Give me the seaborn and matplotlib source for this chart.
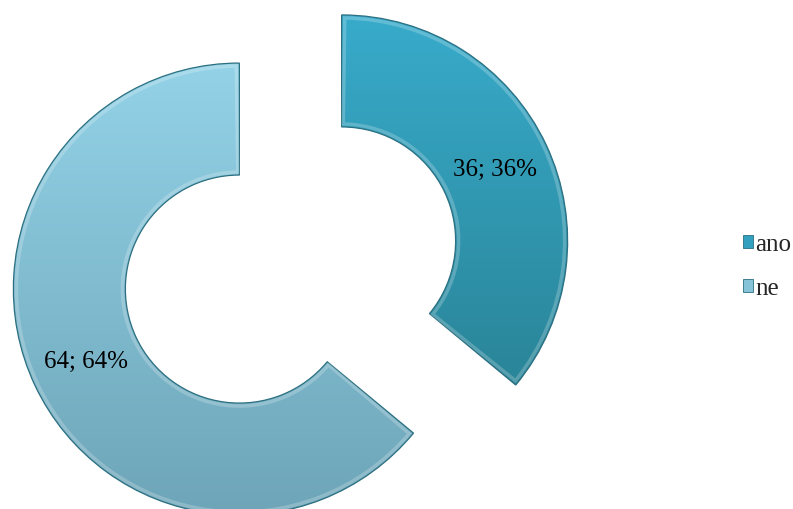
import numpy as np
import matplotlib
matplotlib.use("Agg")
import matplotlib.pyplot as plt
import seaborn as sns
from matplotlib.colors import LinearSegmentedColormap, to_rgb
from matplotlib.patches import Patch, Wedge

# Survey answers
categories = ["ano", "ne"]
counts = [36, 64]

# Top / bottom shades of each ring segment
top_colors = ["#38abcb", "#93d2e7"]
bottom_colors = ["#2a8598", "#6ea5b8"]

sns.set_theme(style="white")
plt.rcParams["font.family"] = ["Liberation Serif", "DejaVu Serif"]

W, H = 793, 510
fig = plt.figure(figsize=(W / 100, H / 100), dpi=100)
ax = fig.add_axes([0, 0, 1, 1])

radius = 226
total = sum(counts)


def fmt(pct):
    value = int(round(pct * total / 100.0))
    return f"{value}; {pct:.0f}%"


wedges, texts, autotexts = ax.pie(
    counts,
    explode=[56.5, 56.5],
    startangle=90,
    counterclock=False,
    radius=radius,
    center=(290.5, 244),
    autopct=fmt,
    pctdistance=0.75,
    wedgeprops=dict(width=112, linewidth=0.9),
    textprops=dict(fontsize=18, color="black"),
)

ax.set_xlim(0, W)
ax.set_ylim(0, H)
ax.set_aspect("equal")
ax.axis("off")

# Vertical gradient fill clipped to each segment, darker rim for the bevel look
for w, c_top, c_bot in zip(wedges, top_colors, bottom_colors):
    w.set_facecolor("none")
    w.set_edgecolor("#2b6f80")
    bb = w.get_path().get_extents(w.get_patch_transform())
    cmap = LinearSegmentedColormap.from_list("g", [to_rgb(c_bot), to_rgb(c_top)])
    grad = np.linspace(0, 1, 256).reshape(-1, 1)
    im = ax.imshow(
        grad,
        cmap=cmap,
        origin="lower",
        extent=(bb.x0, bb.x1, bb.y0, bb.y1),
        aspect="auto",
        zorder=w.get_zorder() - 0.1,
        interpolation="bilinear",
    )
    im.set_clip_path(w)
    # soft highlight just inside the edge
    ax.add_patch(
        Wedge(
            w.center, w.r - 3, w.theta1 + 0.8, w.theta2 - 0.8, width=w.width - 6,
            facecolor="none", edgecolor=(1, 1, 1, 0.22), linewidth=2.5,
            zorder=w.get_zorder() + 0.05,
        )
    )

for t in autotexts:
    t.set_zorder(5)

handles = [
    Patch(facecolor=c, edgecolor="#2b6f80", linewidth=0.6, label=lab)
    for c, lab in zip(["#33a0bf", "#86c3d8"], categories)
]
ax.legend(
    handles=handles,
    loc="center left",
    bbox_to_anchor=(730 / W, 1 - 267 / H),
    bbox_transform=fig.transFigure,
    frameon=False,
    fontsize=18,
    handlelength=0.42,
    handleheight=0.42,
    handletextpad=0.08,
    labelspacing=0.88,
    borderpad=0.0,
)

fig.savefig("out.png", dpi=100)
